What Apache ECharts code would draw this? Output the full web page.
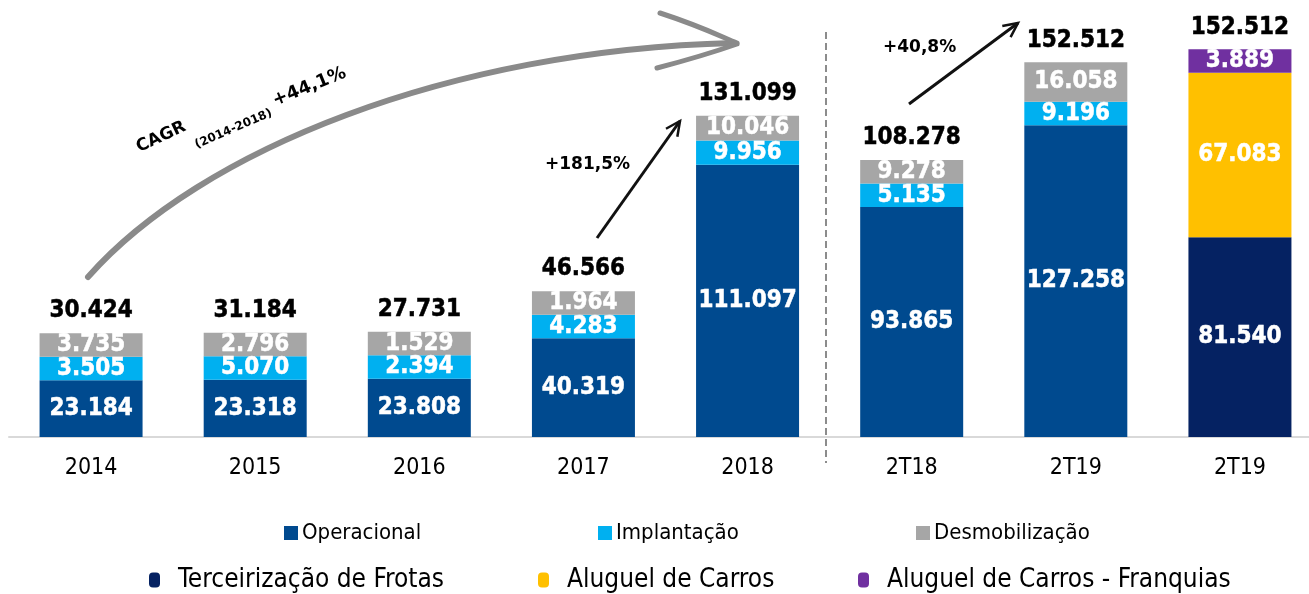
<!DOCTYPE html>
<html>
<head>
<meta charset="utf-8" />
<title>Receita</title>
<script src="https://cdn.jsdelivr.net/npm/echarts@6/dist/echarts.min.js"></script>
<style>
  html, body { margin: 0; padding: 0; background: #fff; }
  #chart { width: 1309px; height: 594px; }
</style>
</head>
<body>
<div id="chart"></div>
<script type="text/javascript">
// categorias e valores
var categories = ['2014', '2015', '2016', '2017', '2018', '2T18', '2T19', '2T19'];
var operacional = [23184, 23318, 23808, 40319, 111097, 93865, 127258, null];
var implantacao = [3505, 5070, 2394, 4283, 9956, 5135, 9196, null];
var desmobilizacao = [3735, 2796, 1529, 1964, 10046, 9278, 16058, null];
var terceirizacao = [null, null, null, null, null, null, null, 81540];
var aluguel = [null, null, null, null, null, null, null, 67083];
var franquias = [null, null, null, null, null, null, null, 3889];
var totals = [30424, 31184, 27731, 46566, 131099, 108278, 152512, 152512];

// segmentos pequenos sao desenhados com altura minima (como no original)
var MIN_SEG = 9600;
var FONT = '"DejaVu Sans Condensed", "DejaVu Sans", sans-serif';
var FONT_B = '"DejaVu Sans", Verdana, sans-serif';

function fmt(v) {
  return String(v).replace(/\B(?=(\d{3})+(?!\d))/g, '.');
}
function plot(arr) {
  return arr.map(function (v) { return v == null ? null : Math.max(v, MIN_SEG); });
}
function stackTop(i) {
  var s = 0;
  [operacional, implantacao, desmobilizacao, terceirizacao, aluguel, franquias].forEach(function (a) {
    if (a[i] != null) s += Math.max(a[i], MIN_SEG);
  });
  return s;
}

function barSeries(name, arr, color) {
  return {
    name: name,
    type: 'bar',
    stack: 'a',
    barWidth: 103,
    data: plot(arr),
    itemStyle: { color: color },
    label: {
      show: true,
      position: 'inside',
      color: '#fff',
      fontFamily: FONT,
      fontWeight: 'bold',
      fontSize: 24,
      textBorderColor: '#fff',
      textBorderWidth: 0.5,
      formatter: function (p) { return fmt(arr[p.dataIndex]); }
    }
  };
}

function arrowHead(tip, tail, len, ang) {
  var dx = tail[0] - tip[0], dy = tail[1] - tip[1];
  var d = Math.sqrt(dx * dx + dy * dy);
  dx /= d; dy /= d;
  function rot(a) {
    var c = Math.cos(a), s = Math.sin(a);
    return [tip[0] + len * (dx * c - dy * s), tip[1] + len * (dx * s + dy * c)];
  }
  return [rot(ang), tip, rot(-ang)];
}

var myChart = echarts.init(document.getElementById('chart'));

var legendItem = function (name, left, top, big) {
  return {
    data: [name],
    left: left,
    top: top,
    padding: 0,
    orient: 'horizontal',
    selectedMode: false,
    itemWidth: big ? 11 : 14,
    itemHeight: big ? 15 : 14,
    icon: big ? 'path://M0,4 Q0,0 4,0 L7,0 Q11,0 11,4 L11,11 Q11,15 7,15 L4,15 Q0,15 0,11 Z' : 'rect',
    textStyle: {
      fontFamily: FONT,
      fontSize: big ? 26 : 22,
      color: '#000',
      padding: big ? [0, 0, 0, 13] : [0, 0, 0, -1]
    }
  };
};

var arrow1 = { tail: [597, 238], tip: [680, 121] };
var arrow2 = { tail: [909, 104], tip: [1018, 23] };

var option = {
  animation: false,
  grid: { left: 9, top: 45, width: 1313, height: 392, outerBoundsMode: 'none', containLabel: false },
  legend: [
    legendItem('Operacional', 284, 522, false),
    legendItem('Implantação', 598, 522, false),
    legendItem('Desmobilização', 916, 522, false),
    legendItem('Terceirização de Frotas', 149, 567, true),
    legendItem('Aluguel de Carros', 538, 567, true),
    legendItem('Aluguel de Carros - Franquias', 858, 567, true)
  ],
  xAxis: {
    type: 'category',
    data: categories,
    axisLine: { lineStyle: { color: '#d9d9d9', width: 2 } },
    axisTick: { show: false },
    axisLabel: { color: '#000', fontFamily: FONT, fontSize: 23, margin: 20 }
  },
  yAxis: {
    type: 'value',
    min: 0,
    max: 160000,
    show: false,
    splitLine: { show: false }
  },
  series: [
    barSeries('Operacional', operacional, '#004a8f'),
    barSeries('Implantação', implantacao, '#00b0f0'),
    barSeries('Desmobilização', desmobilizacao, '#a6a6a6'),
    barSeries('Terceirização de Frotas', terceirizacao, '#052262'),
    barSeries('Aluguel de Carros', aluguel, '#ffc000'),
    barSeries('Aluguel de Carros - Franquias', franquias, '#7030a0'),
    {
      name: 'Total',
      type: 'scatter',
      symbolSize: 0,
      itemStyle: { color: 'transparent', opacity: 1 },
      data: totals.map(function (t, i) { return [i, stackTop(i)]; }),
      label: {
        show: true,
        position: 'top',
        distance: 10,
        color: '#000',
        fontFamily: FONT,
        fontWeight: 'bold',
        fontSize: 24,
        textBorderColor: '#000',
        textBorderWidth: 0.5,
        formatter: function (p) { return fmt(totals[p.dataIndex]); }
      }
    }
  ],
  graphic: [
    // linha tracejada separando anos e trimestres
    { type: 'line', shape: { x1: 826, y1: 32, x2: 826, y2: 463 },
      style: { stroke: '#8c8c8c', lineWidth: 2, lineDash: [7, 4] } },
    // seta curva CAGR
    { type: 'bezierCurve',
      shape: { x1: 88, y1: 277, cpx1: 200, cpy1: 150, cpx2: 450, cpy2: 50, x2: 733, y2: 43 },
      style: { stroke: '#8a8a8a', lineWidth: 6, fill: null, lineCap: 'round' } },
    { type: 'bezierCurve',
      shape: { x1: 660, y1: 13, cpx1: 700, cpy1: 26, cpx2: 720, cpy2: 36, x2: 737, y2: 43 },
      style: { stroke: '#8a8a8a', lineWidth: 5, fill: null, lineCap: 'round' } },
    { type: 'bezierCurve',
      shape: { x1: 657, y1: 68, cpx1: 695, cpy1: 58, cpx2: 720, cpy2: 50, x2: 737, y2: 44 },
      style: { stroke: '#8a8a8a', lineWidth: 5, fill: null, lineCap: 'round' } },
    { type: 'text', x: 141, y: 156, rotation: 0.44,
      style: { text: 'CAGR', fill: '#000', font: 'bold 17px ' + FONT_B, align: 'left', verticalAlign: 'bottom' } },
    { type: 'text', x: 198, y: 151, rotation: 0.41,
      style: { text: '(2014-2018)', fill: '#000', font: 'bold 12px ' + FONT_B, align: 'left', verticalAlign: 'bottom' } },
    { type: 'text', x: 277, y: 110, rotation: 0.39,
      style: { text: '+44,1%', fill: '#000', font: 'bold 18px ' + FONT_B, align: 'left', verticalAlign: 'bottom' } },
    // seta +181,5%
    { type: 'line', shape: { x1: arrow1.tail[0], y1: arrow1.tail[1], x2: arrow1.tip[0], y2: arrow1.tip[1] },
      style: { stroke: '#111', lineWidth: 3 } },
    { type: 'polyline', shape: { points: arrowHead(arrow1.tip, arrow1.tail, 16, 0.45) },
      style: { stroke: '#111', lineWidth: 2.5, fill: null } },
    { type: 'text', x: 545, y: 165,
      style: { text: '+181,5%', fill: '#000', font: 'bold 17px ' + FONT_B, align: 'left', verticalAlign: 'middle' } },
    // seta +40,8%
    { type: 'line', shape: { x1: arrow2.tail[0], y1: arrow2.tail[1], x2: arrow2.tip[0], y2: arrow2.tip[1] },
      style: { stroke: '#111', lineWidth: 3 } },
    { type: 'polyline', shape: { points: arrowHead(arrow2.tip, arrow2.tail, 16, 0.45) },
      style: { stroke: '#111', lineWidth: 2.5, fill: null } },
    { type: 'text', x: 883, y: 48,
      style: { text: '+40,8%', fill: '#000', font: 'bold 17px ' + FONT_B, align: 'left', verticalAlign: 'middle' } }
  ]
};

myChart.setOption(option);
</script>
</body>
</html>
